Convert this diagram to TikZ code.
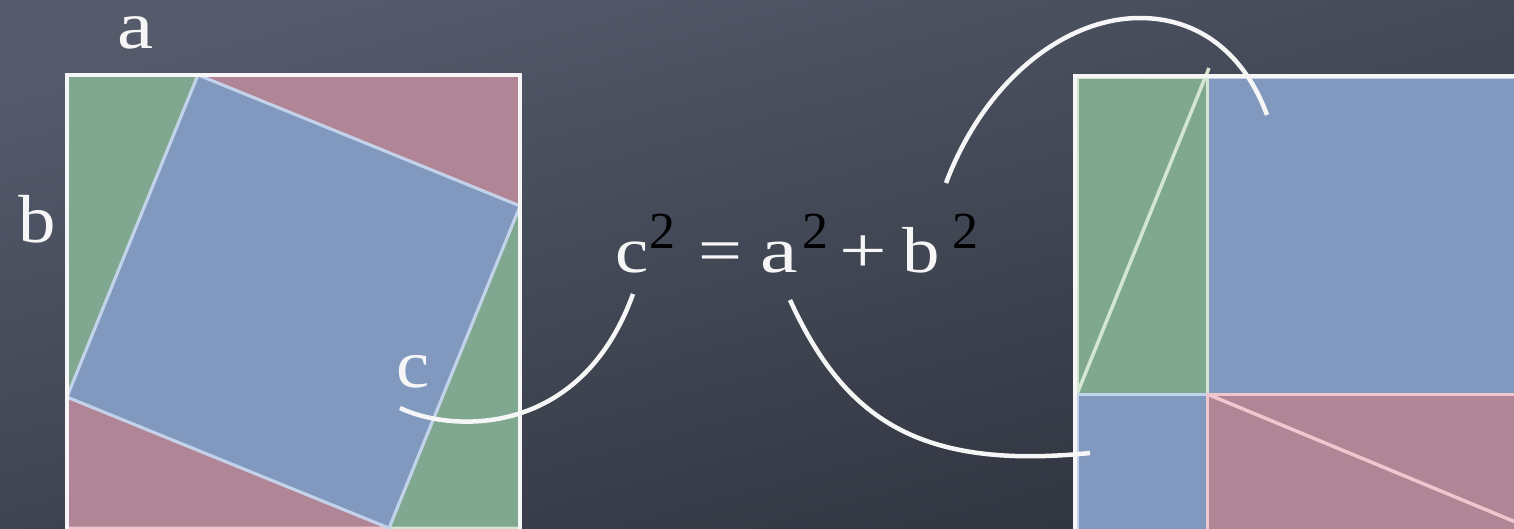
\documentclass[tikz,border=0pt]{standalone}
\usepackage{fontspec}
\setmainfont{Liberation Serif}
\usepackage{graphicx}
\definecolor{bgtop}{HTML}{555B6B}
\definecolor{bgbot}{HTML}{2F333E}
\definecolor{gfill}{HTML}{80A890}
\definecolor{rfill}{HTML}{B08595}
\definecolor{bfill}{HTML}{8199BE}
\definecolor{gline}{HTML}{D2E6D2}
\definecolor{rline}{HTML}{F2C6CE}
\definecolor{bline}{HTML}{C2D2EA}
\definecolor{chalk}{HTML}{F6F6F6}
\newcommand{\supnum}{\raisebox{24pt}{\color{black}\fontsize{52}{52}\selectfont 2}}
\newcommand{\gbox}[2]{\makebox[#1pt][c]{#2}}
\newcommand{\wide}[2]{\scalebox{#1}[1]{#2}}
\tikzset{
  greenpiece/.style={fill=gfill, draw=gline, line width=3pt, line join=round},
  redpiece/.style={fill=rfill, draw=rline, line width=3pt, line join=round},
  bluepiece/.style={fill=bfill, draw=bline, line width=3pt, line join=round},
  frame/.style={draw=chalk, line width=3.5pt},
  label/.style={text=chalk, inner sep=0pt, font=\fontsize{68}{72}\selectfont},
  eqlabel/.style={text=chalk, inner sep=0pt, font=\fontsize{65}{70}\selectfont},
  curve/.style={draw=chalk, line width=4.5pt}
}
\begin{document}
\begin{tikzpicture}[x=1pt,y=-1pt]
\useasboundingbox (0,0) rectangle (1514,528);
\begin{scope}
\clip (0,0) rectangle (1514,528);
\shade[top color=bgtop, bottom color=bgbot, shading angle=15] (-10,-10) rectangle (1524,538);

% left figure
\coordinate (LT) at (198,75);
\coordinate (LR) at (520,206);
\coordinate (LB) at (389,528);
\coordinate (LL) at (67,397);
\path[greenpiece] (67,75) -- (LT) -- (LL) -- cycle;
\path[redpiece] (LT) -- (520,75) -- (LR) -- cycle;
\path[greenpiece] (LR) -- (520,528) -- (LB) -- cycle;
\path[redpiece] (LL) -- (LB) -- (67,528) -- cycle;
\path[bluepiece] (LT) -- (LR) -- (LB) -- (LL) -- cycle;
\draw[frame] (67,530) -- (67,75) -- (520,75) -- (520,530);

% right figure
\path[bluepiece] (1207,77) rectangle (1540,394);
\path[greenpiece] (1077,77) rectangle (1207,394);
\draw[gline, line width=3.5pt] (1077,394) -- (1209,68);
\path[bluepiece] (1077,394) rectangle (1207,535);
\path[redpiece] (1207,394) rectangle (1540,535);
\draw[rline, line width=3.5pt] (1207,394) -- (1530,528);
\draw[frame, line width=4pt] (1075,530) -- (1075,76) -- (1540,76);

% labels
\node[label, anchor=base] (la) at (136,48) {\wide{1.2}{a}};
\node[label, anchor=base] (lb) at (37,242) {\wide{1.1}{b}};
\node[label, anchor=base] (lc) at (413,387) {\wide{1.1}{c}};
\node[eqlabel, anchor=base west] (eq) at (617,272) {\gbox{30}{\wide{1.15}{c}}\gbox{30}{\supnum}\gbox{86}{\wide{1.2}{=}}\gbox{32}{\wide{1.3}{a}}\gbox{40}{\supnum}\gbox{56}{\wide{1.3}{+}}\gbox{60}{\wide{1.15}{b}}\gbox{28}{\supnum}};

% connectors
\coordinate (c1s) at (400,408);
\coordinate (c1e) at (633,294);
\coordinate (c2s) at (790,300);
\coordinate (c2e) at (1090,453);
\coordinate (c3s) at (946,183);
\coordinate (c3t) at (1140,18);
\coordinate (c3e) at (1267,115);
\draw[curve] (c1s) .. controls (450,432) and (580,440) .. (c1e);
\draw[curve] (c2s) .. controls (845,420) and (920,470) .. (c2e);
\draw[curve] (c3s) .. controls (985,80) and (1065,18) .. (c3t) .. controls (1200,18) and (1245,55) .. (c3e);
\end{scope}
\end{tikzpicture}
\end{document}
